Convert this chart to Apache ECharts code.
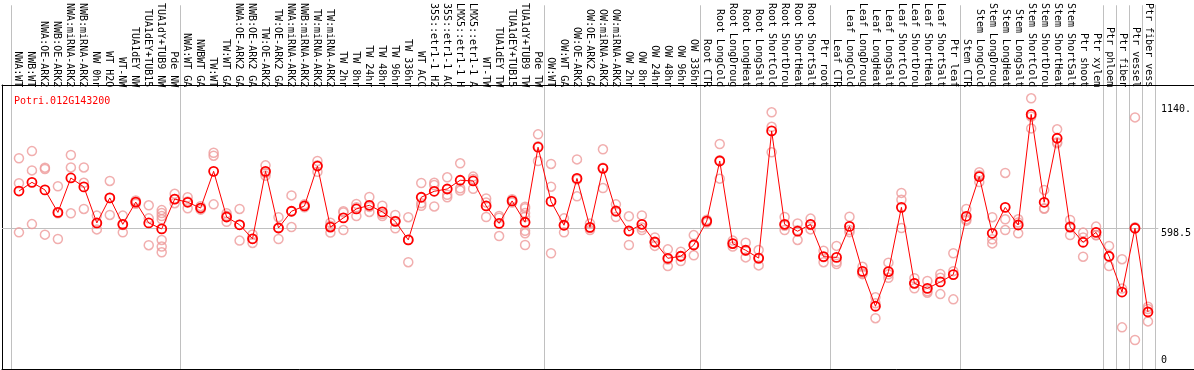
<!DOCTYPE html>
<html><head><meta charset="utf-8">
<script src="https://cdn.jsdelivr.net/npm/echarts@6/dist/echarts.min.js"></script>
<style>html,body{margin:0;padding:0;background:#fff}#c{width:1194px;height:370px}</style>
</head><body><div id="c"></div>
<script>
const geneId = 'Potri.012G143200';
const categories = [
 'NWA:WT','NWB:WT','NWA:OE-ARK2','NWB:OE-ARK2','NWA:miRNA-ARK2','NWB:miRNA-ARK2','NW 0hr','WT H2O','WT-NW','TUA1dEY NW','TUA1dEY+TUB15','TUA1dY+TUB9 NW','Pde NW',
 'NWA:WT GA','NWBWT GA','TW:WT','TW:WT GA','NWA:OE-ARK2 GA','NWB:OE-ARK2 GA','TW:OE-ARK2','TW:OE-ARK2 GA','NWA:miRNA-ARK2','NWB:miRNA-ARK2','TW:miRNA-ARK2','TW:miRNA-ARK2','TW 2hr','TW 8hr','TW 24hr','TW 48hr','TW 96hr','TW 336hr','WT ACC','35S::etr1-1 H2','35S::etr1-1 AC','LMX5::etr1-1 H','LMX5::etr1-1 A','WT-TW','TUA1dEY TW','TUA1dEY+TUB15','TUA1dY+TUB9 TW','Pde TW',
 'OW:WT','OW:WT GA','OW:OE-ARK2','OW:OE-ARK2 GA','OW:miRNA-ARK2','OW:miRNA-ARK2','OW 2hr','OW 8hr','OW 24hr','OW 48hr','OW 96hr','OW 336hr',
 'Root CTR','Root LongCold','Root LongDroug','Root LongHeat','Root LongSalt','Root ShortCold','Root ShortDrou','Root ShortHeat','Root ShortSalt','Ptr root',
 'Leaf CTR','Leaf LongCold','Leaf LongDroug','Leaf LongHeat','Leaf LongSalt','Leaf ShortCold','Leaf ShortDrou','Leaf ShortHeat','Leaf ShortSalt','Ptr leaf',
 'Stem CTR','Stem LongCold','Stem LongDroug','Stem LongHeat','Stem LongSalt','Stem ShortCold','Stem ShortDrou','Stem ShortHeat','Stem ShortSalt','Ptr shoot','Ptr xylem',
 'Ptr phloem','Ptr fiber','Ptr vessel','Ptr fiber vess'
];
const groupStarts = [0,13,41,53,63,73,84,85,86,87];
const meanValues = [
 761,799,766,668,818,779,622,731,616,713,622,596,726,
 712,687,847,648,614,553,847,600,673,696,870,604,644,683,699,670,629,548,734,760,770,808,805,696,620,718,625,952,
 716,612,816,603,860,674,587,616,539,468,477,526,
 630,892,532,503,469,1023,616,586,616,475,
 472,607,411,259,410,690,359,337,365,397,
 651,824,577,690,613,1095,712,991,604,538,581,
 477,321,599,234
];
const replicates = [
 [904,795,581],[935,851,617],[863,857,571],[782,664,552],[918,864,664],[864,797,683],[654,620,594],[805,731,657],[654,613,581],[720,713,706],[699,642,525],[678,665,652,638,548,519,494],[749,726,708],
 [734,716,686],[695,687,680],[928,915,703],[664,653,627],[683,614,545],[572,553,535],[873,840,828],[647,600,552],[742,673,604],[703,696,690],[892,873,845],[623,610,580],[673,668,591],[705,690,652],[735,692,670],[697,661,652],[657,631,599],[647,548,451],[796,708,697],[797,787,694],[821,745,734],[882,773,763],[824,813,771],[729,711,648],[652,645,565],[725,718,711],[693,686,665,649,588,577,526],[1008,956,892],
 [879,780,490],[642,613,581],[899,811,738],[620,600,591],[943,863,774],[703,671,648],[651,587,526],[655,602,591],[559,537,522],[507,463,434],[497,478,456],[569,528,481],
 [636,630,624],[966,895,815],[545,532,519],[536,501,472],[504,466,437],[1104,1041,930],[648,610,591],[620,590,548],[641,613,594],[501,473,451],
 [522,453,443],[649,591,582],[431,403,399],[298,272,207],[449,398,383],[753,723,600],[381,359,337],[369,324,318],[400,383,312],[490,412,289],
 [683,638,632],[843,830,800],[647,551,533],[840,638,591],[638,624,577],[1165,1086,1034],[766,686,684],[1030,974,969],[635,608,569],[580,559,475],[606,569,568],
 [522,475,434],[464,336,167],[1082,603,112],[257,247,193]
];
const yTickValues = [0, 598.5, 1140];
const yTickLabels = ['0', '598.5', '1140.'];
const refLineValue = 598.5;

const FONT = 'DejaVu Sans Mono';
const X_MIN = -17/13, X_MAX = X_MIN + 1192/13;
const Y_MAX = 1223.1;

const meanData = meanValues.map((v,i)=>[i,v]);
const repData = [];
replicates.forEach((arr,i)=>arr.forEach(v=>repData.push([i,v])));

const chart = echarts.init(document.getElementById('c'), null, {renderer:'canvas'});
const hidden = {axisLine:{show:false},axisTick:{show:false},axisLabel:{show:false},splitLine:{show:false}};
chart.setOption({
  animation:false,
  backgroundColor:'#fff',
  title:{text:geneId,left:9,top:91,textStyle:{color:'#ff0000',fontFamily:FONT,fontSize:10,fontWeight:'normal'}},
  grid:[
    {left:2,right:0,top:85,bottom:1},
    {left:11,width:1144,top:0,bottom:1},
    {left:2,right:0,top:85,bottom:4.3}
  ],
  xAxis:[
    {gridIndex:0,type:'value',position:'bottom',min:0,max:1,axisLine:{show:true,onZero:false,lineStyle:{color:'#000',width:1}},axisTick:{show:false},axisLabel:{show:false},splitLine:{show:false}},
    {gridIndex:0,type:'value',position:'top',min:0,max:1,axisLine:{show:true,onZero:false,lineStyle:{color:'#000',width:1}},axisTick:{show:false},axisLabel:{show:false},splitLine:{show:false}},
    {gridIndex:1,type:'category',data:categories,position:'top',offset:-85,boundaryGap:true,
     axisLine:{show:false,onZero:false},axisTick:{show:false},
     axisLabel:{show:true,interval:0,rotate:90,margin:3,fontFamily:FONT,fontSize:10,color:'#000',padding:[3,0,0,0]},
     splitLine:{show:true,interval:(idx)=>groupStarts.indexOf(idx)>=0,lineStyle:{color:'#c0c0c0',width:1}}},
    Object.assign({gridIndex:2,type:'value',min:X_MIN,max:X_MAX},hidden)
  ],
  yAxis:[
    {gridIndex:0,type:'value',position:'left',min:0,max:1,axisLine:{show:true,onZero:false,lineStyle:{color:'#000',width:1}},axisTick:{show:false},axisLabel:{show:false},splitLine:{show:false}},
    {gridIndex:1,type:'value',position:'right',min:0,max:1,axisLine:{show:true,onZero:false,lineStyle:{color:'#c0c0c0',width:1}},axisTick:{show:false},axisLabel:{show:false},splitLine:{show:false}},
    {gridIndex:2,type:'value',position:'right',min:0,max:Y_MAX,axisLine:{show:false},axisTick:{show:false},splitLine:{show:false},
     axisLabel:{show:true,inside:true,margin:31,align:'left',verticalAlign:'top',verticalAlignMinLabel:'bottom',
       customValues:yTickValues,fontFamily:FONT,fontSize:10,color:'#000',
       formatter:(v)=>{const k=yTickValues.indexOf(v);return k>=0?yTickLabels[k]:'';}}}
  ],
  series:[
    {type:'scatter',xAxisIndex:3,yAxisIndex:2,data:repData,symbol:'circle',symbolSize:9,z:2,
     itemStyle:{color:'rgba(255,255,255,0)',borderColor:'#ee9a9a',borderWidth:1.5},
     markLine:{silent:true,symbol:'none',z:1,label:{show:false},lineStyle:{color:'#c0c0c0',width:1,type:'solid'},
       data:[[{coord:[X_MIN,refLineValue]},{coord:[87.8,refLineValue]}]]}},
    {type:'line',xAxisIndex:3,yAxisIndex:2,data:meanData,symbol:'circle',symbolSize:9,z:3,showAllSymbol:true,
     lineStyle:{color:'#ff0000',width:1},
     itemStyle:{color:'rgba(255,255,255,0)',borderColor:'#ff0000',borderWidth:1.8}}
  ]
});
</script></body></html>
